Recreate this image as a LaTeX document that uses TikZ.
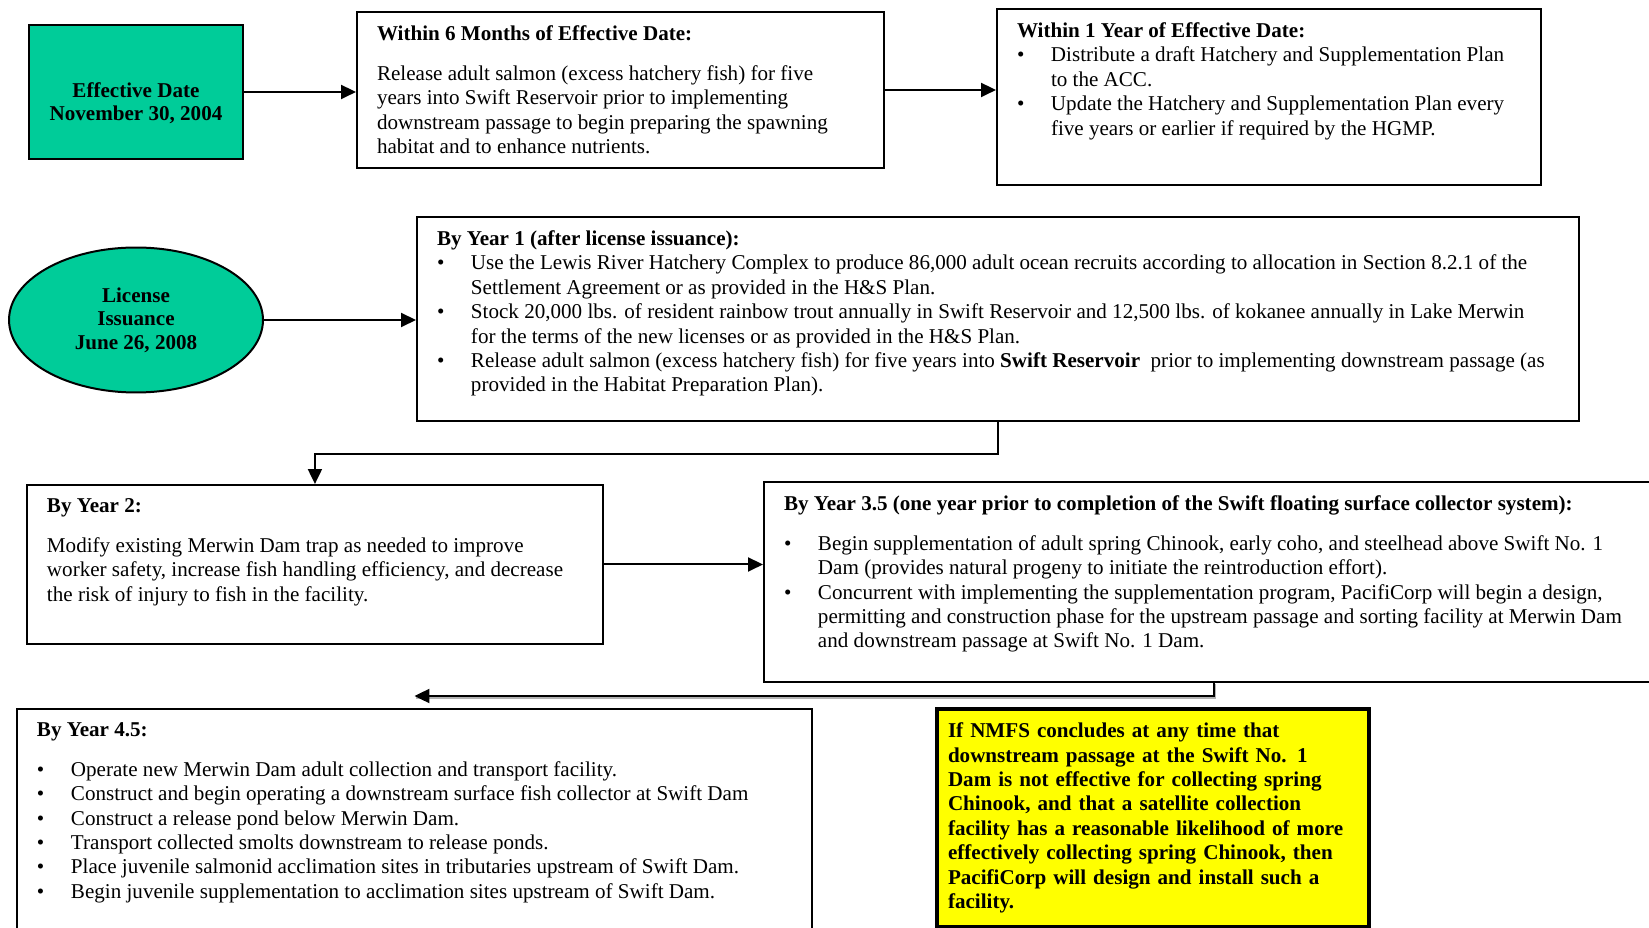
\documentclass[tikz,border=0pt]{standalone}
\usepackage{fontspec}
\setmainfont{Liberation Serif}
\usetikzlibrary{arrows.meta,shapes.geometric}
\definecolor{PlanGreen}{RGB}{0,204,153}
\definecolor{PlanYellow}{RGB}{255,255,0}
\newcommand{\bul}{\par\noindent\hangindent=0.68cm\hangafter=1\makebox[0.68cm][l]{\textbullet}}
\newcommand{\boxtext}[3]{\parbox[t][#2][t]{#1}{\parindent=0pt\raggedright #3}}

\begin{document}
\begin{tikzpicture}[
x=0.02cm,y=-0.02cm,
box/.style={draw,line width=0.04cm,anchor=north west,inner xsep=0.4cm,inner ysep=0.27cm,
font=\fontsize{12}{13.9}\selectfont},
greenbox/.style={draw,line width=0.04cm,fill=PlanGreen,align=center,inner sep=0pt,
font=\bfseries\fontsize{12}{13.4}\selectfont},
notebox/.style={draw,line width=0.08cm,fill=PlanYellow,anchor=north west,inner xsep=0.22cm,
align=left,font=\bfseries\fontsize{12}{13.9}\selectfont},
arrow/.style={-{Triangle[length=0.3cm,width=0.28cm]},line width=0.04cm}
]
\useasboundingbox (0,0) rectangle (1649,928);
\clip (0,0) rectangle (1649,928);
% top row
\node[greenbox,anchor=north west,minimum width=4.28cm,minimum height=2.68cm] (eff) at (28,24)
{\rule{0pt}{0.75cm}Effective Date\\November 30, 2004};
\node[box] (six) at (356,11) {\boxtext{9.74cm}{2.58cm}{\textbf{Within 6 Months of Effective Date:}\\[0.31cm]
Release adult salmon (excess hatchery fish) for five\\
years into Swift Reservoir prior to implementing\\
downstream passage to begin preparing the spawning\\
habitat and to enhance nutrients.}};
\node[box] (one) at (996,8) {\boxtext{10.08cm}{2.98cm}{\textbf{Within 1 Year of Effective Date:}
\bul Distribute a draft Hatchery and Supplementation Plan\newline to the ACC.
\bul Update the Hatchery and Supplementation Plan every\newline five years or earlier if required by the HGMP.}};
% license row
\node[greenbox,ellipse,minimum width=5.08cm,minimum height=2.9cm] (lic) at (136,320)
{License\\Issuance\\June 26, 2008};
\node[box] (yr1) at (416,216) {\boxtext{22.44cm}{3.54cm}{\textbf{By Year 1 (after license issuance):}
\bul Use the Lewis River Hatchery Complex to produce 86,000 adult ocean recruits according to allocation in Section 8.2.1 of the\newline
Settlement Agreement or as provided in the H\&S Plan.
\bul Stock 20,000 lbs. of resident rainbow trout annually in Swift Reservoir and 12,500 lbs. of kokanee annually in Lake Merwin\newline
for the terms of the new licenses or as provided in the H\&S Plan.
\bul Release adult salmon (excess hatchery fish) for five years into \textbf{Swift Reservoir}~ prior to implementing downstream passage (as\newline
provided in the Habitat Preparation Plan).}};
% middle row
\node[box] (yr2) at (26,484) {\boxtext{10.72cm}{2.64cm}{\textbf{By Year 2:}\\[0.31cm]
Modify existing Merwin Dam trap as needed to improve\\
worker safety, increase fish handling efficiency, and decrease\\
the risk of injury to fish in the facility.}};
\node[box] (yr3) at (763,481) {\boxtext{17.2cm}{3.46cm}{\textbf{By Year 3.5 (one year prior to completion of the Swift floating surface collector system):}\par\vspace{0.31cm}
\bul Begin supplementation of adult spring Chinook, early coho, and steelhead above Swift No. 1\newline
Dam (provides natural progeny to initiate the reintroduction effort).
\bul Concurrent with implementing the supplementation program, PacifiCorp will begin a design,\newline
permitting and construction phase for the upstream passage and sorting facility at Merwin Dam\newline
and downstream passage at Swift No. 1 Dam.}};
% bottom row
\node[box] (yr4) at (16,708) {\boxtext{15.1cm}{4.2cm}{\textbf{By Year 4.5:}\par\vspace{0.31cm}
\bul Operate new Merwin Dam adult collection and transport facility.
\bul Construct and begin operating a downstream surface fish collector at Swift Dam
\bul Construct a release pond below Merwin Dam.
\bul Transport collected smolts downstream to release ponds.
\bul Place juvenile salmonid acclimation sites in tributaries upstream of Swift Dam.
\bul Begin juvenile supplementation to acclimation sites upstream of Swift Dam.}};
\node[notebox,text width=8.2cm,minimum height=4.36cm] (nmfs) at (935,707)
{If NMFS concludes at any time that\\
downstream passage at the Swift No. 1\\
Dam is not effective for collecting spring\\
Chinook, and that a satellite collection\\
facility has a reasonable likelihood of more\\
effectively collecting spring Chinook, then\\
PacifiCorp will design and install such a\\
facility.};
% connectors
\coordinate (tip) at ([yshift=0.24cm]yr4.north);
\draw[arrow] (eff.east) -- (eff.east -| six.west);
\draw[arrow] (six.east) -- (six.east -| one.west);
\draw[arrow] (lic.east) -- (lic.east -| yr1.west);
\draw[arrow] (yr1.south) -- ++(0,32) -| (yr2.north);
\draw[arrow] (yr2.east) -- (yr2.east -| yr3.west);
\draw[gray!60,line width=0.04cm,transform canvas={xshift=0.03cm,yshift=-0.03cm}] (yr3.south) |- (tip);
\draw[arrow] (yr3.south) |- (tip);
\end{tikzpicture}
\end{document}
